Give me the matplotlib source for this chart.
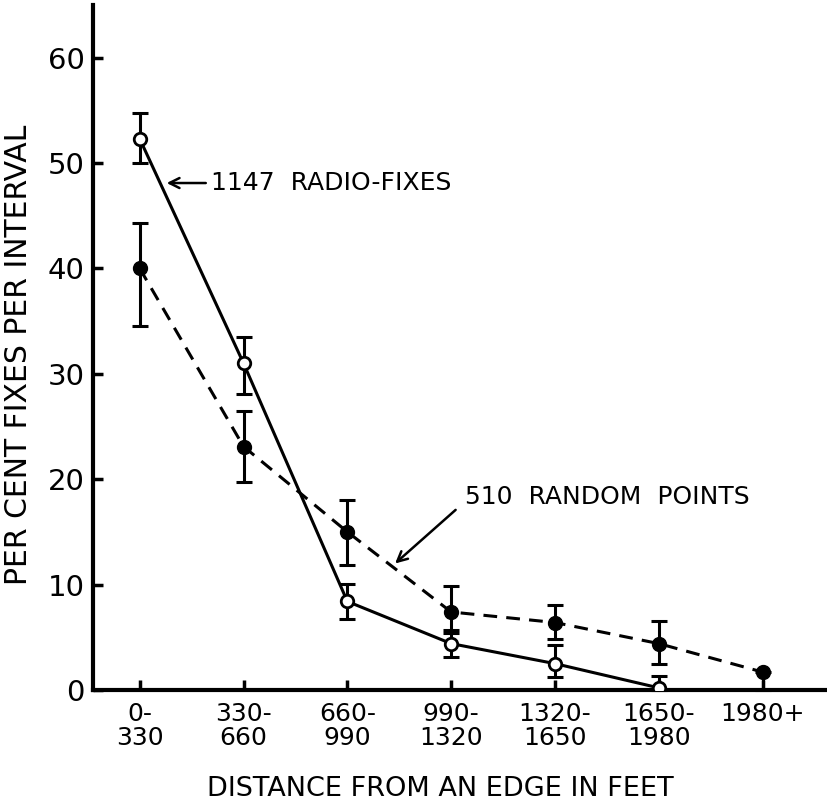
import matplotlib
matplotlib.use("Agg")
import matplotlib.pyplot as plt
import numpy as np

plt.rcParams['font.family'] = ['DejaVu Sans']

# Distance intervals (feet from an edge)
intervals = ["0-\n330", "330-\n660", "660-\n990", "990-\n1320",
             "1320-\n1650", "1650-\n1980", "1980+"]

# Radio-fixes (1147 fixes): percent per interval with range limits
radio_pct = [52.3, 31.0, 8.4, 4.4, 2.5, 0.2]
radio_low = [50.0, 28.1, 6.7, 3.1, 1.2, 0.0]
radio_high = [54.7, 33.5, 10.1, 5.7, 4.3, 1.3]

# Random points (510 points): percent per interval with range limits
random_pct = [40.0, 23.1, 15.0, 7.4, 6.4, 4.4, 1.7]
random_low = [34.5, 19.7, 11.9, 5.4, 4.8, 2.5, 0.0]
random_high = [44.3, 26.5, 18.0, 9.9, 8.1, 6.5, 1.7]

y_ticks = [0, 10, 20, 30, 40, 50, 60]

fig = plt.figure(figsize=(8.28, 8.05), dpi=100)
ax = fig.add_axes([0.1123, 0.1429, 0.8877, 0.851])

x_radio = np.arange(len(radio_pct))
x_random = np.arange(len(random_pct))

def err(vals, lo, hi):
    v = np.array(vals)
    return np.vstack([v - np.array(lo), np.array(hi) - v])

# Random points: dashed line, filled circles
ax.errorbar(x_random, random_pct, yerr=err(random_pct, random_low, random_high),
            fmt='none', ecolor='black', elinewidth=2.2, capsize=6, capthick=2.2,
            zorder=2, clip_on=False)
ax.plot(x_random, random_pct, color='black', lw=2.2, ls=(0, (4.5, 3)),
        zorder=3, clip_on=False)
ax.plot(x_random, random_pct, 'o', color='black', ms=10, zorder=5, clip_on=False)

# Radio-fixes: solid line, open circles
ax.errorbar(x_radio, radio_pct, yerr=err(radio_pct, radio_low, radio_high),
            fmt='none', ecolor='black', elinewidth=2.2, capsize=6, capthick=2.2,
            zorder=2, clip_on=False)
ax.plot(x_radio, radio_pct, color='black', lw=2.2, zorder=3, clip_on=False)
ax.plot(x_radio, radio_pct, 'o', mfc='white', mec='black', mew=2.0, ms=9,
        zorder=6, clip_on=True)

ax.set_xlim(-0.45, 6.63)
ax.set_ylim(0, 65)

ax.set_xticks(np.arange(len(intervals)))
ax.set_xticklabels(intervals, fontsize=18, linespacing=1.0)
ax.set_yticks(y_ticks)
ax.set_yticklabels([str(t) for t in y_ticks], fontsize=21)

ax.tick_params(axis='x', direction='in', length=7, width=2.5, pad=8.5)
ax.tick_params(axis='y', direction='in', length=7, width=2.5, pad=6)

for side in ['top', 'right']:
    ax.spines[side].set_visible(False)
for side in ['left', 'bottom']:
    ax.spines[side].set_linewidth(3)

ax.set_ylabel("PER CENT FIXES PER INTERVAL", fontsize=21.5)
ax.yaxis.set_label_coords(-0.082, 0.489)
ax.set_xlabel("DISTANCE FROM AN EDGE IN FEET", fontsize=19.5)
ax.xaxis.set_label_coords(0.472, -0.126)

# Series labels with pointer arrows
ax.annotate("1147  RADIO-FIXES", xy=(0.26, 48.1), xytext=(0.69, 48.1),
            fontsize=18, va='center', ha='left',
            arrowprops=dict(arrowstyle='->', color='black', lw=1.8,
                            shrinkA=2, shrinkB=0, mutation_scale=18))
ax.annotate("510  RANDOM  POINTS", xy=(2.46, 12.0), xytext=(3.13, 18.3),
            fontsize=18, va='center', ha='left',
            arrowprops=dict(arrowstyle='->', color='black', lw=1.8,
                            shrinkA=6, shrinkB=0, mutation_scale=18,
                            relpos=(0.0, 0.3)))

fig.savefig("out.png", dpi=100)
